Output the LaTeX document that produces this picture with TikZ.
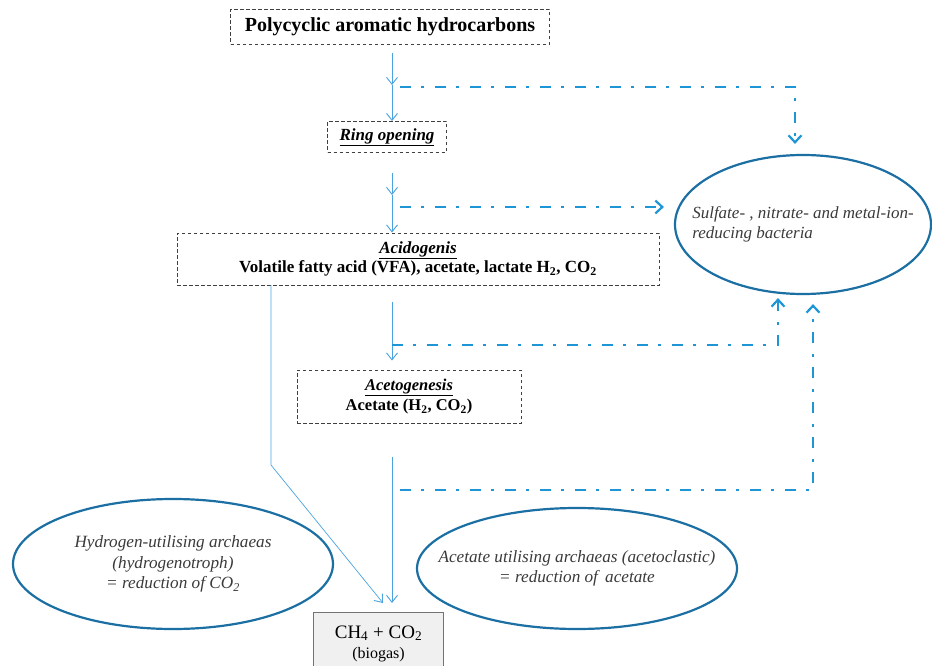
\documentclass[tikz,border=0pt]{standalone}
\usepackage{fontspec}
\setmainfont{Liberation Serif}
\usetikzlibrary{arrows.meta,shapes.geometric,calc}
\definecolor{flowblue}{HTML}{4AA3DF}
\definecolor{dashblue}{HTML}{1E96D6}
\definecolor{ellblue}{HTML}{1B6FA3}
\definecolor{txtgray}{HTML}{3A3A3A}
\tikzset{
  stagebox/.style={draw=black!75, dash pattern=on 3.5pt off 2.5pt, line width=0.9pt, rectangle, inner sep=0pt, align=center},
  orgell/.style={draw=ellblue, line width=2.2pt, ellipse, inner xsep=-40pt, inner ysep=0pt, align=center, text=txtgray},
  flow/.style={draw=flowblue, line width=0.9pt, -{Straight Barb[length=7pt,width=11pt,line width=0.9pt]}},
  feed/.style={draw=dashblue, line width=2.6pt, dash pattern=on 11pt off 10pt on 3pt off 11pt, -{Straight Barb[length=7pt,width=13pt,line width=2.2pt]}}
}
\begin{document}
\begin{tikzpicture}[x=1pt,y=-1pt]
\useasboundingbox (0,0) rectangle (932,666);
% boxes
\node[stagebox, minimum width=319pt, minimum height=35pt, font=\fontsize{20}{23}\selectfont\bfseries] (pah) at (390,27) {Polycyclic aromatic hydrocarbons};
\node[stagebox, minimum width=119pt, minimum height=31pt, font=\fontsize{17}{20}\selectfont\bfseries\itshape] (ring) at (387,137) {\underline{Ring opening}};
\node[stagebox, minimum width=482pt, minimum height=52pt, font=\fontsize{17}{19.5}\selectfont\bfseries] (acid) at (418,259) {\underline{\itshape Acidogenis}\\Volatile fatty acid (VFA), acetate, lactate H\textsubscript{2}, CO\textsubscript{2}};
\node[stagebox, minimum width=224pt, minimum height=53pt, font=\fontsize{16.5}{20}\selectfont\bfseries] (aceto) at (409,396.5) {\underline{\itshape Acetogenesis}\\Acetate (H\textsubscript{2}, CO\textsubscript{2})};
\node[draw=black!55, fill=black!6, line width=1pt, rectangle, minimum width=130pt, minimum height=62pt, inner sep=0pt, align=center, anchor=north, font=\fontsize{19}{20}\selectfont] (biogas) at (378.5,612) {CH\textsubscript{4} + CO\textsubscript{2}\\{\fontsize{16}{20}\selectfont (biogas)}};
% ellipses
\node[orgell, minimum width=256pt, minimum height=139pt, font=\fontsize{17}{20}\selectfont\itshape, align=left] (sulf) at (803,224.5) {Sulfate- , nitrate- and metal-ion-\\reducing bacteria};
\node[orgell, minimum width=320pt, minimum height=130pt, font=\fontsize{17.2}{20.5}\selectfont\itshape] (hyd) at (173,564) {Hydrogen-utilising archaeas\\(hydrogenotroph)\\= reduction of CO\textsubscript{2}};
\node[orgell, minimum width=320pt, minimum height=121pt, font=\fontsize{17.2}{19.5}\selectfont\itshape] (acet) at (577,568.5) {Acetate utilising archaeas (acetoclastic)\\= reduction of\, acetate};
% coordinates
\coordinate (a1s) at ($(pah.south)+(2,8)$);
\coordinate (a1m) at (392,85);
\coordinate (a2s) at (392,173);
\coordinate (a2m) at (392,195);
\coordinate (a3s) at (392,302);
\coordinate (a4s) at (392,457);
\coordinate (dks) at (271,285);
\coordinate (dkb) at (271,465);
% solid flows
\draw[flow] (a1s) -- (a1m);
\draw[flow] (a1m) -- (ring.north -| a1m);
\draw[flow] (a2s) -- (a2m);
\draw[flow] (a2m) -- (acid.north -| a2m);
\draw[flow] (a3s) -- ([yshift=9pt]aceto.north -| a3s);
\draw[flow] (a4s) -- ([yshift=9pt]biogas.north -| a4s);
\draw[flow, line width=0.7pt] (dks) -- (dkb) -- ([xshift=4.5pt,yshift=9pt]biogas.north);
% feedback dash-dot
\coordinate (f1s) at (400,87);
\coordinate (f2s) at (400,207);
\coordinate (f3s) at (392,345);
\coordinate (f4s) at (400,490);
\draw[feed] (f1s) -| ([xshift=-8pt,yshift=10pt]sulf.north);
\draw[feed] (f2s) -- ([xshift=-10pt]sulf.west |- f2s);
\draw[feed] (f3s) -| ([xshift=-25pt,yshift=-3pt]sulf.south);
\draw[feed] (f4s) -| ([xshift=10pt,yshift=-9pt]sulf.south);
\end{tikzpicture}
\end{document}
